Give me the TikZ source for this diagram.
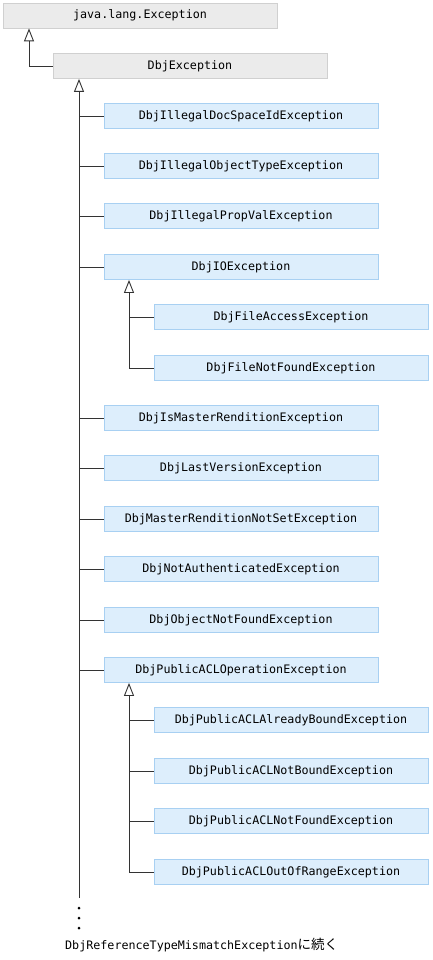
\documentclass[tikz,border=0pt]{standalone}
\usepackage{fontspec}
\setmonofont{DejaVu Sans Mono}
\newfontfamily\cjk{Noto Sans CJK JP}
\usetikzlibrary{arrows.meta}
\definecolor{grayfill}{HTML}{EBEBEB}
\definecolor{grayline}{HTML}{D0D0D0}
\definecolor{bluefill}{HTML}{DDEEFC}
\definecolor{blueline}{HTML}{A8D0F2}
\definecolor{conn}{HTML}{333333}
\tikzset{
  cls/.style={minimum width=274pt, minimum height=25pt, inner sep=0pt,
    font=\ttfamily\fontsize{11.7}{13}\selectfont, text=black},
  graybox/.style={cls, fill=grayfill, draw=grayline, line width=0.8pt},
  bluebox/.style={cls, fill=bluefill, draw=blueline, line width=0.8pt},
  wire/.style={draw=conn, line width=0.9pt},
  inherit/.style={wire, -{Triangle[open, width=10pt, length=13pt]}},
  dot/.style={circle, fill=black, inner sep=0pt, minimum size=3pt}
}
\begin{document}
\begin{tikzpicture}[x=1pt,y=-1pt]
\useasboundingbox (0,0) rectangle (432,960);
\node[graybox] (java) at (140,15.5) {java.lang.Exception};
\node[graybox] (dbj) at (190,66) {DbjException};
\node[bluebox] (a1) at (241,116) {DbjIllegalDocSpaceIdException};
\node[bluebox] (a2) at (241,166) {DbjIllegalObjectTypeException};
\node[bluebox] (a3) at (241,216) {DbjIllegalPropValException};
\node[bluebox] (a4) at (241,267) {DbjIOException};
\node[bluebox] (b1) at (291,317) {DbjFileAccessException};
\node[bluebox] (b2) at (291,368) {DbjFileNotFoundException};
\node[bluebox] (a5) at (241,418) {DbjIsMasterRenditionException};
\node[bluebox] (a6) at (241,468) {DbjLastVersionException};
\node[bluebox] (a7) at (241,519) {DbjMasterRenditionNotSetException};
\node[bluebox] (a8) at (241,569) {DbjNotAuthenticatedException};
\node[bluebox] (a9) at (241,620) {DbjObjectNotFoundException};
\node[bluebox] (a10) at (241,670) {DbjPublicACLOperationException};
\node[bluebox] (c1) at (291,720) {DbjPublicACLAlreadyBoundException};
\node[bluebox] (c2) at (291,771) {DbjPublicACLNotBoundException};
\node[bluebox] (c3) at (291,821) {DbjPublicACLNotFoundException};
\node[bluebox] (c4) at (291,872) {DbjPublicACLOutOfRangeException};
% java <- dbj
\coordinate (jx) at (29,0);
\draw[inherit] (dbj.west) -| (jx |- java.south);
% trunk from DbjException
\coordinate (tx) at (79,0);
\coordinate (tend) at (79,898);
\draw[inherit] (tend) -- (tx |- dbj.south);
\foreach \n in {a1,a2,a3,a4,a5,a6,a7,a8,a9,a10}
  \draw[wire] (tx |- \n.west) -- (\n.west);
% IO subtree
\coordinate (ix) at (129,0);
\draw[inherit] (ix |- b2.west) -- (ix |- a4.south);
\foreach \n in {b1,b2}
  \draw[wire] (ix |- \n.west) -- (\n.west);
% PublicACL subtree
\draw[inherit] (ix |- c4.west) -- (ix |- a10.south);
\foreach \n in {c1,c2,c3,c4}
  \draw[wire] (ix |- \n.west) -- (\n.west);
% continuation dots
\node[dot] (d1) at (79,908) {};
\node[dot] (d2) at (79,918) {};
\node[dot] (d3) at (79,928) {};
\node[anchor=west, inner sep=0pt, font=\ttfamily\fontsize{11.7}{13}\selectfont] (cont) at (65,945)
  {DbjReferenceTypeMismatchException{\cjk\fontsize{13.5}{14}\selectfont に続く}};
\end{tikzpicture}
\end{document}
